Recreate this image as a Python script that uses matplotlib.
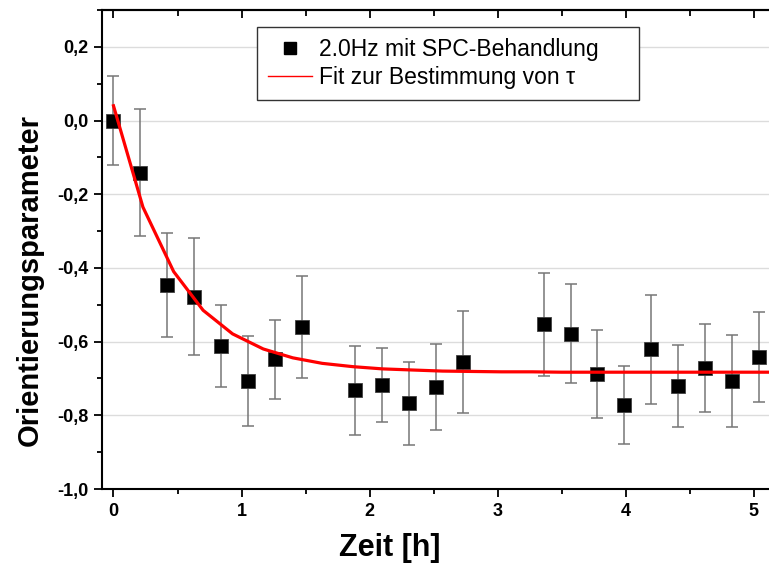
import matplotlib
matplotlib.use("Agg")
import matplotlib.pyplot as plt
import matplotlib.ticker as ticker
from matplotlib.lines import Line2D

# measured orientation parameter (2.0 Hz, with SPC treatment)
zeit = [0.00, 0.21, 0.42, 0.63, 0.84, 1.05, 1.26, 1.47, 1.89, 2.10, 2.31,
        2.52, 2.73, 3.36, 3.57, 3.78, 3.99, 4.20, 4.41, 4.62, 4.83, 5.04]
orient = [0.000, -0.142, -0.446, -0.478, -0.612, -0.707, -0.648, -0.561, -0.732, -0.718, -0.767,
          -0.724, -0.656, -0.553, -0.578, -0.688, -0.772, -0.621, -0.721, -0.672, -0.707, -0.642]
fehler = [0.120, 0.172, 0.142, 0.158, 0.110, 0.122, 0.107, 0.138, 0.121, 0.100, 0.113,
          0.117, 0.138, 0.140, 0.135, 0.120, 0.105, 0.147, 0.112, 0.119, 0.125, 0.121]

# fit curve
fit_t = [0.00, 0.23, 0.47, 0.70, 0.93, 1.17, 1.40, 1.63, 1.87, 2.10, 2.33, 2.57,
         2.80, 3.03, 3.27, 3.50, 3.73, 3.97, 4.20, 4.43, 4.67, 4.90, 5.13, 5.37]
fit_y = [0.040, -0.235, -0.410, -0.515, -0.579, -0.620, -0.644, -0.659, -0.668, -0.674, -0.677, -0.680,
         -0.681, -0.682, -0.682, -0.683, -0.683, -0.683, -0.683, -0.683, -0.683, -0.683, -0.683, -0.683]

y_ticks = [-1.0, -0.8, -0.6, -0.4, -0.2, 0.0, 0.2]
y_ticklabels = ["-1,0", "-0,8", "-0,6", "-0,4", "-0,2", "0,0", "0,2"]
x_ticks = [0, 1, 2, 3, 4, 5]

plt.rcParams["font.family"] = ["Liberation Sans", "DejaVu Sans"]

fig = plt.figure(figsize=(7.69, 5.70), dpi=100)
ax = fig.add_axes([0.1326, 0.1421, 0.8674, 0.8404])

ax.errorbar(zeit, orient, yerr=fehler, fmt="none", ecolor="#767676",
            elinewidth=1.1, capsize=4, capthick=1.1, zorder=3)
ax.plot(zeit, orient, linestyle="none", marker="s", markersize=9.5,
        markerfacecolor="black", markeredgecolor="#404040", markeredgewidth=0.6, zorder=4)
ax.plot(fit_t, fit_y, color="red", linewidth=2.3, zorder=5)

ax.set_xlim(-0.09, 5.12)
ax.set_ylim(-1.0, 0.3)

ax.set_yticks(y_ticks)
ax.set_yticklabels(y_ticklabels)
ax.yaxis.set_minor_locator(ticker.MultipleLocator(0.1))
ax.set_xticks(x_ticks)
ax.xaxis.set_minor_locator(ticker.MultipleLocator(0.5))

for lbl in ax.get_xticklabels() + ax.get_yticklabels():
    lbl.set_fontweight("bold")
ax.tick_params(which="major", length=6, width=1.3, labelsize=13, pad=4, direction="out")
ax.tick_params(which="minor", length=3.6, width=1.3, direction="out")

ax.grid(axis="y", which="major", color="#dcdcdc", linewidth=1.0, zorder=0)
ax.set_axisbelow(True)

for side in ["left", "bottom", "top"]:
    ax.spines[side].set_linewidth(1.5)
ax.spines["right"].set_visible(False)

top = ax.secondary_xaxis("top")
top.set_xticks(x_ticks)
top.xaxis.set_minor_locator(ticker.MultipleLocator(0.5))
top.tick_params(which="major", direction="in", length=6, width=1.3, labeltop=False)
top.tick_params(which="minor", direction="in", length=4, width=1.3)
top.spines["top"].set_linewidth(1.5)

ax.set_xlabel("Zeit [h]", fontsize=22, fontweight="bold", va="center")
ax.xaxis.set_label_coords(0.432, -0.123)
ax.set_ylabel("Orientierungsparameter", fontsize=21, fontweight="bold", va="center")
ax.yaxis.set_label_coords(-0.108, 0.436)

handles = [
    Line2D([], [], linestyle="none", marker="s", markersize=9, color="black"),
    Line2D([], [], color="red", linewidth=1.0),
]
leg = ax.legend(handles, ["2.0Hz mit SPC-Behandlung", "Fit zur Bestimmung von \u03c4"],
                loc="upper left", bbox_to_anchor=(0.232, 0.816, 0.573, 0.148), mode="expand",
                borderaxespad=0, fontsize=16.5, fancybox=False, framealpha=1,
                edgecolor="#333333", handlelength=1.95, handletextpad=0.3,
                labelspacing=0.2, borderpad=0.48)
leg.get_frame().set_linewidth(1.0)
leg.set_zorder(10)

fig.savefig("out.png", dpi=100, facecolor="white")
